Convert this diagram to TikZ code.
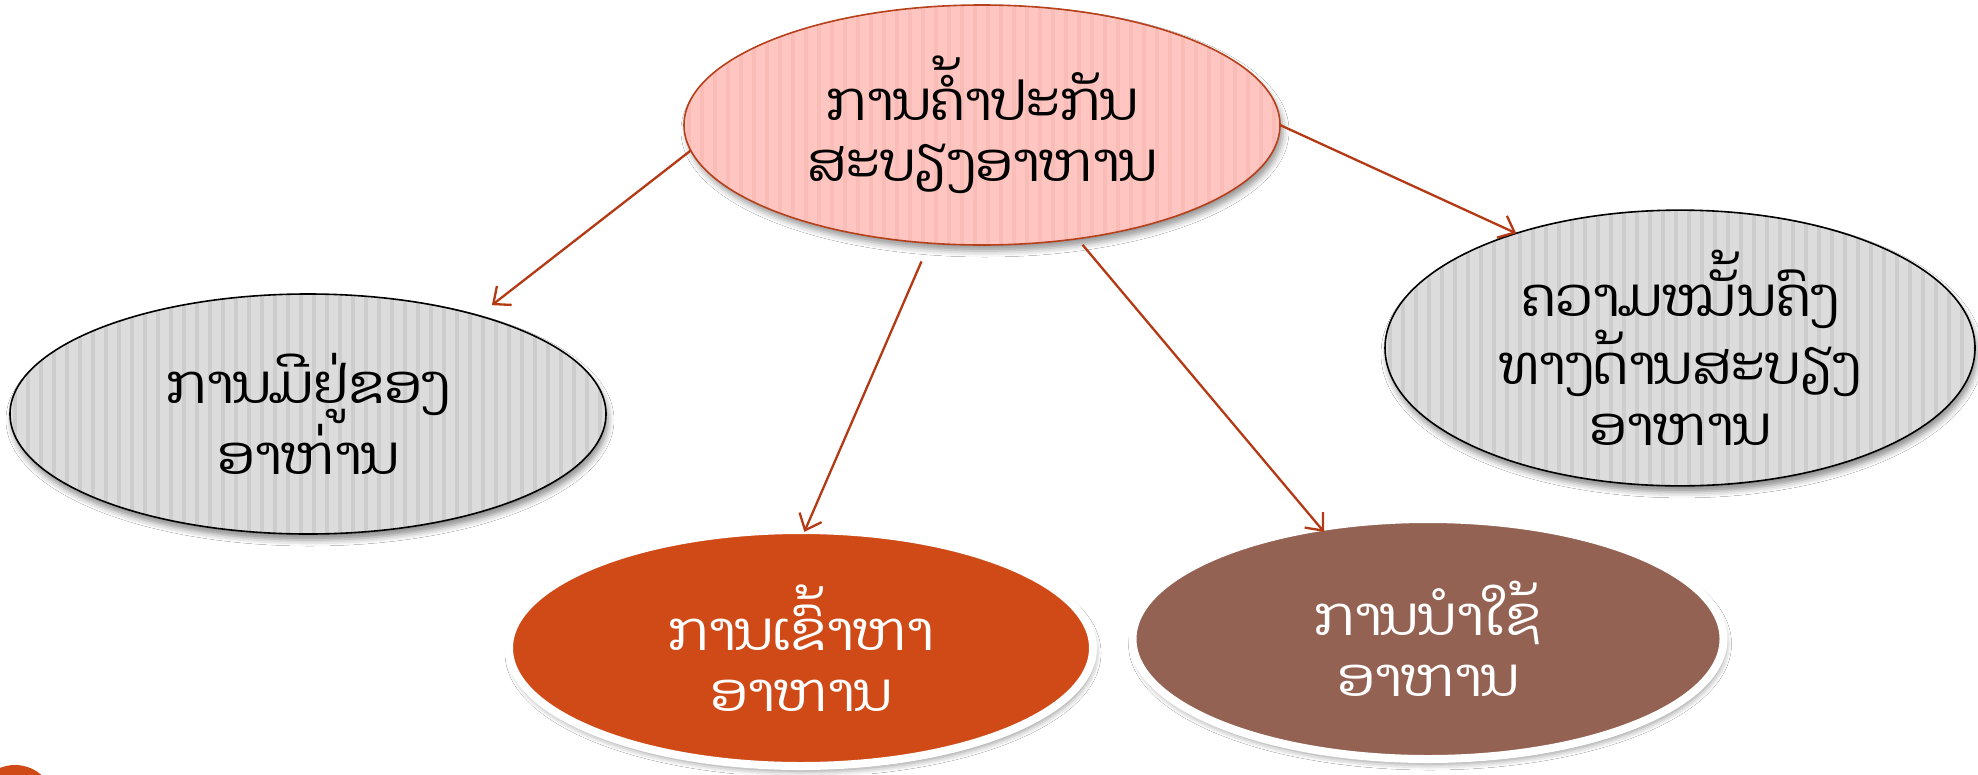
\documentclass[tikz,border=0pt]{standalone}
\usepackage{fontspec}
\newfontfamily\laofont[Script=Lao]{Dhyana}
\usetikzlibrary{shapes.geometric,arrows.meta,shadows.blur}
\definecolor{pinkfill}{HTML}{FFC6C1}
\definecolor{pinkstripe}{HTML}{F9BCB7}
\definecolor{pinkline}{HTML}{B5401A}
\definecolor{grayfill}{HTML}{DCDCDC}
\definecolor{graystripe}{HTML}{CDCDCD}
\definecolor{orangefill}{HTML}{D04A17}
\definecolor{brownfill}{HTML}{946252}
\definecolor{arrowcol}{HTML}{B33A14}
\newcommand\mystripes[1]{\foreach \i in {0,...,48}{\fill[#1] ([xshift=\i*13pt+3pt]path picture bounding box.north west) rectangle ++(3.5pt,-330pt);}}
\tikzset{
  ovalbase/.style={ellipse, inner sep=0pt, outer sep=0pt, align=center,
    font=\laofont\fontsize{54}{61}\selectfont},
  pinkoval/.style={ovalbase, draw=pinkline, line width=1.6pt, fill=pinkfill,
    path picture={\mystripes{pinkstripe}},
    blur shadow={shadow xshift=3pt, shadow yshift=-6pt, shadow opacity=40, shadow blur radius=6pt}},
  grayoval/.style={ovalbase, draw=black, line width=1.6pt, fill=grayfill,
    path picture={\mystripes{graystripe}},
    blur shadow={shadow xshift=2pt, shadow yshift=-6pt, shadow opacity=45, shadow blur radius=6pt}},
  solidoval/.style={ovalbase, draw=white, line width=8pt, text=white,
    blur shadow={shadow xshift=2pt, shadow yshift=-5pt, shadow opacity=45, shadow blur radius=6pt}},
  link/.style={draw=arrowcol, line width=2.3pt, -{Straight Barb[length=14pt,width=24pt,line width=2.3pt]}}
}
\begin{document}
\begin{tikzpicture}[x=1pt,y=-1pt]
\useasboundingbox (0,0) rectangle (1978,774);
\fill[white] (0,0) rectangle (1978,774);
\fill[orangefill] (15,805) circle (40pt);

\node[pinkoval, minimum width=596pt, minimum height=240pt] (top) at (982,125)
  {ການຄ້ຳປະກັນ\\ສະບຽງອາຫານ};
\node[grayoval, minimum width=596pt, minimum height=240pt] (avail) at (308,414)
  {ການມີຢູ່ຂອງ\\ອາຫ່ານ};
\node[grayoval, minimum width=590pt, minimum height=242pt] (stab) at (1680,348)
  {ຄວາມໝັ້ນຄົງ\\ທາງດ້ານສະບຽງ\\ອາຫານ};
\node[solidoval, fill=orangefill, minimum width=584pt, minimum height=236pt] (access) at (801,648)
  {ການເຂົ້າຫາ\\ອາຫານ};
\node[solidoval, fill=brownfill, minimum width=591pt, minimum height=240pt] (use) at (1428,639)
  {ການນຳໃຊ້\\ອາຫານ};

\draw[link, shorten >=17pt] (top.185) -- (avail.30);
\draw[link, shorten <=20pt, shorten >=-2pt] (top.246.7) -- (access.88.5);
\draw[link, shorten <=8pt, shorten >=-6pt] (top.310.4) -- (use.134.5);
\draw[link] (top.0) -- (stab.145);
\end{tikzpicture}
\end{document}
